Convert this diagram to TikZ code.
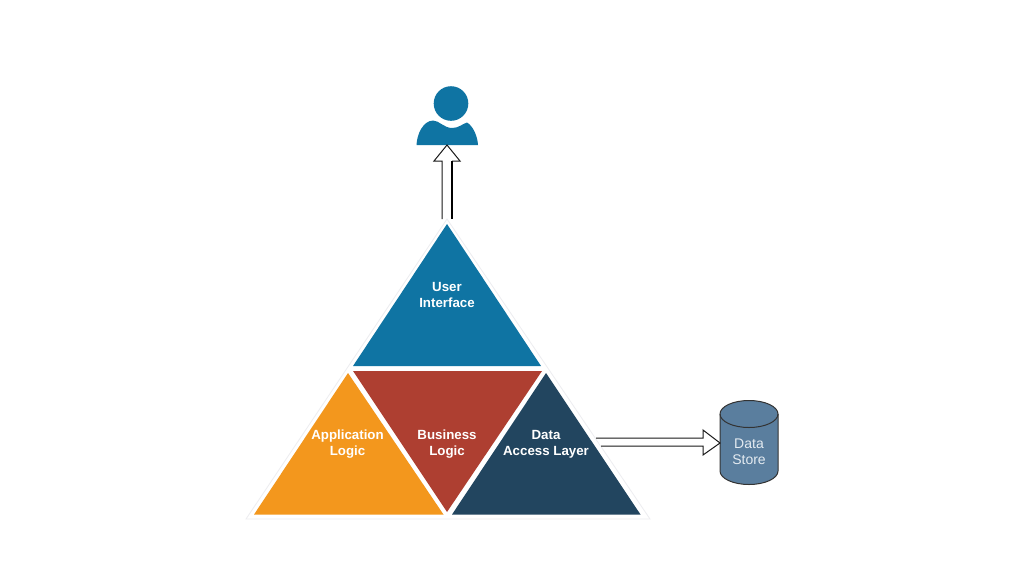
\documentclass[tikz,border=0pt]{standalone}
\usepackage{fontspec}
\setmainfont{Liberation Sans}
\usetikzlibrary{calc}
\definecolor{tblue}{HTML}{0F74A3}
\definecolor{torange}{HTML}{F3971D}
\definecolor{tred}{HTML}{AE3F31}
\definecolor{tnavy}{HTML}{22455F}
\definecolor{tstore}{HTML}{5A7E9E}
\definecolor{tstoretext}{HTML}{E4EBF1}
\definecolor{tfaint}{HTML}{EDEDF0}
\tikzset{
  x=1pt,y=-1pt,
  tlabel/.style={font=\fontsize{13.3}{16}\selectfont\bfseries,text=white,align=center,inner sep=0pt},
  slabel/.style={font=\fontsize{14}{16}\selectfont,text=tstoretext,align=center,inner sep=0pt},
  blockarrow/.style={draw=black!90,line width=1pt,fill=white,line join=miter},
  storeline/.style={draw=black!80,line width=1pt,fill=tstore},
}
\begin{document}
\begin{tikzpicture}
\useasboundingbox (0,0) rectangle (1024,576);
\fill[white] (0,0) rectangle (1024,576);
% faint outer outline
\draw[tfaint,line width=0.8pt] (246,519) -- (447,219) -- (650,519) -- cycle;
% triangles
\fill[tblue] (447,224) -- (353,366) -- (541,366) -- cycle;
\fill[torange] (348,373) -- (254,514.5) -- (443.5,514.5) -- cycle;
\fill[tred] (353,371) -- (542,371) -- (447,512) -- cycle;
\fill[tnavy] (546,373) -- (452,514.5) -- (640.5,514.5) -- cycle;
% labels
\node[tlabel] (ui) at (447,295) {User\\Interface};
\node[tlabel] (app) at (347.5,444.5) {Application\\Logic};
\node[tlabel] (biz) at (447,444.5) {Business\\Logic};
\node[tlabel] (dal) at (546,444.5) {Data\\Access Layer};
% person
\fill[tblue] (451,103.5) circle (17.3);
\fill[tblue] (416.5,145) .. controls (417,134) and (423,121) .. (433,120.5)
  .. controls (439,120.5) and (444,128) .. (452,128)
  .. controls (459,128) and (462,124) .. (467,122.5)
  .. controls (473,126) and (477.5,136) .. (478,145) -- cycle;
% data store
\draw[storeline] (720,414) arc[start angle=180,end angle=0,x radius=29,y radius=-13.5] -- (778,471)
  arc[start angle=0,end angle=-180,x radius=29,y radius=-13.5] -- cycle;
\draw[black!80,line width=1pt] (720,414) arc[start angle=180,end angle=360,x radius=29,y radius=-13.5];
\node[slabel] (store) at (749,451.5) {Data\\Store};
% block arrows
\coordinate (uitip) at (447,145);
\coordinate (uibase) at (447,219);
\coordinate (dsbase) at (596,442);
\draw[blockarrow] ($(uibase)+(-5,0)$) -- ($(uitip)+(-5,16)$) -- ($(uitip)+(-13,16)$) -- (uitip) -- ($(uitip)+(13,16)$) -- ($(uitip)+(5,16)$);
\draw[black,line width=1.3pt] ($(uitip)+(5,16)$) -- ($(uibase)+(5,0)$);
\draw[blockarrow] ($(dsbase)+(0,-4)$) -- ($(dsbase)+(107,-4)$) -- ($(dsbase)+(107,-12)$) -- ($(dsbase)+(124,1)$) -- ($(dsbase)+(107,13)$) -- ($(dsbase)+(107,4)$) -- ($(dsbase)+(5,4)$);
\end{tikzpicture}
\end{document}
